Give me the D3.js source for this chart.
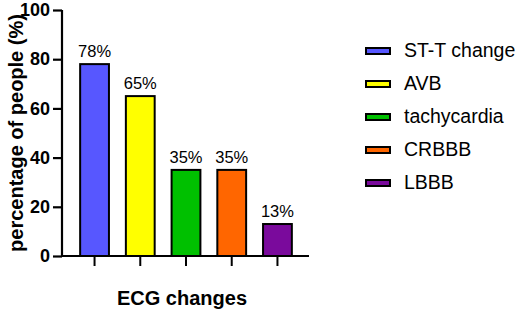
<!DOCTYPE html>
<html lang="en">
<head>
  <meta charset="UTF-8">
  <title>ECG changes</title>
  <script src="https://d3js.org/d3.v7.min.js"></script>
  <style>
    body { margin: 0; background: #fff; }
    text { font-family: "Liberation Sans", Arial, sans-serif; }
    .tick-label { font-size: 18px; font-weight: bold; }
    .axis-title { font-size: 20px; font-weight: bold; }
    .label { font-size: 16.5px; text-anchor: middle; }
    .legend-text { font-size: 19.5px; }
  </style>
</head>
<body>
  <div id="chart"></div>
  <script>
    const categories = ["ST-T change", "AVB", "tachycardia", "CRBBB", "LBBB"];
    const values = [78, 65, 35, 35, 13];
    const colors = ["#5757ff", "#ffff00", "#00c000", "#ff6600", "#7a0a9c"];
    const yTicks = [0, 20, 40, 60, 80, 100];

    const svg = d3.select("#chart")
      .append("svg")
      .attr("width", 523)
      .attr("height", 317);

    const plotLeft = 62, plotTop = 10, plotBottom = 256;

    const x = d3.scaleBand()
      .domain(categories)
      .range([71, 301])
      .paddingInner(0.37)
      .paddingOuter(0.2);

    const y = d3.scaleLinear()
      .domain([0, 100])
      .range([plotBottom, plotTop]);

    // bars
    svg.selectAll(".bar")
      .data(values)
      .enter()
      .append("rect")
      .attr("class", "bar")
      .attr("x", (d, i) => x(categories[i]))
      .attr("y", d => y(d))
      .attr("width", x.bandwidth())
      .attr("height", d => plotBottom - y(d))
      .attr("fill", (d, i) => colors[i])
      .attr("stroke", "#000")
      .attr("stroke-width", 2);

    // value labels
    svg.selectAll(".label")
      .data(values)
      .enter()
      .append("text")
      .attr("class", "label")
      .attr("x", (d, i) => x(categories[i]) + x.bandwidth() / 2)
      .attr("y", d => y(d) - 7)
      .text(d => d + "%");

    // y axis
    const yAxis = svg.append("g")
      .attr("transform", `translate(${plotLeft},0)`)
      .call(d3.axisLeft(y).tickValues(yTicks).tickSize(9).tickPadding(3));
    yAxis.select(".domain").attr("stroke-width", 2.2).attr("d", `M0,${plotTop}V${plotBottom}`);
    yAxis.selectAll(".tick line").attr("stroke-width", 2.2);
    yAxis.selectAll(".tick text").attr("class", "tick-label").attr("fill", "#000");

    // x axis
    const xAxis = svg.append("g")
      .attr("transform", `translate(0,${plotBottom})`)
      .call(d3.axisBottom(x).tickSize(10).tickFormat(""));
    xAxis.select(".domain").attr("stroke-width", 2.2).attr("d", `M${plotLeft - 1},0H309`);
    xAxis.selectAll(".tick line").attr("stroke-width", 2);

    // axis titles
    svg.append("text")
      .attr("class", "axis-title")
      .attr("text-anchor", "middle")
      .attr("transform", `translate(23,${(plotTop + plotBottom) / 2}) rotate(-90)`)
      .text("percentage of people (%)");

    svg.append("text")
      .attr("class", "axis-title")
      .attr("text-anchor", "middle")
      .attr("x", 182)
      .attr("y", 305)
      .text("ECG changes");

    // legend
    const legend = svg.selectAll(".legend")
      .data(categories)
      .enter()
      .append("g")
      .attr("class", "legend")
      .attr("transform", (d, i) => `translate(366,${51 + i * 33})`);

    legend.append("rect")
      .attr("x", 0)
      .attr("y", -3)
      .attr("width", 24)
      .attr("height", 6)
      .attr("fill", (d, i) => colors[i])
      .attr("stroke", "#000")
      .attr("stroke-width", 2);

    legend.append("text")
      .attr("class", "legend-text")
      .attr("x", 38)
      .attr("y", 0)
      .attr("dy", "0.3em")
      .text(d => d);
  </script>
</body>
</html>
